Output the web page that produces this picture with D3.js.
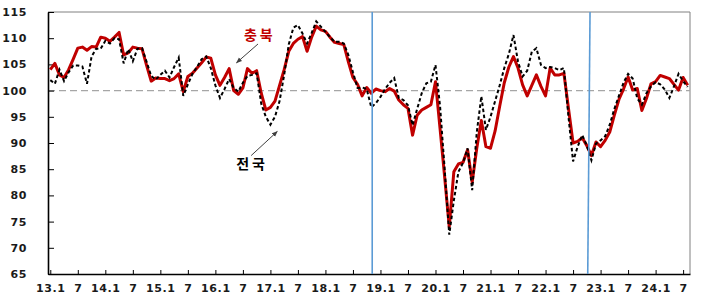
<!DOCTYPE html>
<html>
<head>
<meta charset="utf-8">
<script src="https://cdn.jsdelivr.net/npm/d3@7"></script>
<style>
  body { margin: 0; background: #fff; }
  svg text { font-family: "DejaVu Sans", Verdana, sans-serif; font-weight: bold; }
</style>
</head>
<body>
<div id="chart"></div>
<script>
// Monthly index, 2013.1 ~ 2024.8
const chungbuk = [
  104.0, 105.2, 103.0, 102.5, 104.0, 106.0, 108.1, 108.3, 107.7, 108.4, 108.3, 110.2,
  110.0, 109.4, 110.2, 111.1, 106.8, 107.2, 108.3, 108.1, 108.0, 104.8, 101.8, 102.4,
  102.3, 102.3, 101.9, 102.3, 103.2, 99.8, 102.7, 103.3, 104.3, 105.3, 106.4, 106.2,
  103.0, 101.0, 102.5, 104.2, 100.0, 99.3, 100.5, 104.2, 103.3, 103.8, 99.5, 96.3,
  96.8, 98.0, 101.0, 104.0, 107.5, 109.0, 109.8, 110.3, 107.5, 110.2, 112.3, 111.6,
  111.3, 110.2, 109.2, 109.0, 108.8, 105.5, 102.5, 101.2, 99.0, 100.6, 99.5, 100.3,
  100.0, 99.8, 100.4, 99.9, 98.2, 97.3, 96.6, 91.5, 95.3, 96.3, 96.8, 97.3,
  101.7, 92.7, 83.5, 74.0, 84.5, 86.0, 86.3, 88.7, 82.5, 89.0, 94.3, 89.3,
  89.0, 92.3, 97.0, 101.5, 104.5, 106.5, 104.3, 101.1, 99.0, 101.0, 103.0, 100.8,
  99.0, 104.3, 103.0, 103.0, 103.3, 96.6, 90.0, 90.3, 91.0, 89.5, 87.6, 90.2,
  89.3, 90.5, 92.1, 95.3, 98.3, 100.3, 102.6, 100.1, 100.4, 96.2, 98.5, 101.3,
  101.7, 102.9, 102.6, 102.3, 101.2, 100.1, 102.5, 101.0
];

const national = [
  102.0, 101.3, 104.0, 101.8, 103.5, 104.8, 104.8, 104.6, 101.3, 106.5, 108.0, 108.0,
  109.5, 109.0, 110.0, 109.8, 105.2, 107.9, 105.6, 108.0, 108.1, 105.5, 102.8, 102.1,
  103.0, 103.8, 102.5, 104.5, 106.3, 99.0, 101.2, 103.2, 104.5, 106.0, 106.5, 104.3,
  101.0, 98.6, 100.3, 102.2, 100.5, 99.8, 101.5, 102.8, 103.0, 103.3, 97.5, 95.0,
  93.5, 95.0, 98.0, 103.0, 108.8, 112.0, 112.5, 110.9, 109.0, 111.0, 113.2, 112.2,
  111.2, 110.2, 109.3, 109.3, 109.0, 106.8, 103.5, 100.5, 100.6, 100.3, 96.8, 97.6,
  98.8, 100.3, 101.5, 102.4, 98.6, 98.2, 97.2, 93.4, 96.5, 99.5, 101.4, 101.7,
  104.9, 97.0, 85.0, 72.5, 79.0, 84.5, 86.2, 89.0, 81.0, 92.0, 98.9, 92.5,
  95.0, 98.0, 101.0, 104.3, 107.0, 110.6, 105.5, 102.7, 103.8, 107.4, 108.1, 104.9,
  104.3, 104.5, 104.3, 103.9, 104.3, 95.0, 86.5, 89.3, 91.5, 89.5, 86.7, 89.9,
  90.5, 91.3, 93.5, 96.5, 99.0, 101.5, 103.2, 102.3, 98.5, 97.3, 99.5, 100.8,
  101.6, 101.2, 100.2, 98.6, 100.8, 103.2, 101.8, 100.7
];

const tickLabels = ['13.1', '7', '14.1', '7', '15.1', '7', '16.1', '7', '17.1', '7', '18.1', '7',
                    '19.1', '7', '20.1', '7', '21.1', '7', '22.1', '7', '23.1', '7', '24.1', '7'];
const yTicks = [65, 70, 75, 80, 85, 90, 95, 100, 105, 110, 115];

// vertical marker lines, in month-index units (top, bottom)
const dividers = [[70.2, 70.2], [117.7, 117.2]];

let width = 710, height = 297;
let margin = {top: 12, right: 20, bottom: 23, left: 48};

let svg = d3.select('#chart')
            .append('svg')
            .attr('width', width)
            .attr('height', height);

let xScale = d3.scaleLinear()
            .domain([-0.5, chungbuk.length - 0.5])
            .range([margin.left, width - margin.right]);

let yScale = d3.scaleLinear()
            .domain([65, 115])
            .range([height - margin.bottom, margin.top]);

// frame top / right
svg.append('path')
    .attr('d', `M${margin.left},${margin.top}H${width - margin.right}V${height - margin.bottom}`)
    .attr('fill', 'none')
    .attr('stroke', '#808080')
    .attr('stroke-width', 1);

// 100 reference line
svg.append('line')
    .attr('x1', margin.left)
    .attr('x2', width - margin.right)
    .attr('y1', yScale(100))
    .attr('y2', yScale(100))
    .attr('stroke', '#a6a6a6')
    .attr('stroke-width', 1.2)
    .attr('stroke-dasharray', '7,4');

// axes
let yAxis = svg.append('g')
            .attr('transform', `translate(${margin.left},0)`)
            .call(d3.axisLeft(yScale).tickValues(yTicks).tickSize(-6).tickSizeOuter(0).tickPadding(21));

let xTickValues = tickLabels.map((d, i) => i * 6);
let xAxis = svg.append('g')
            .attr('transform', `translate(0,${height - margin.bottom})`)
            .call(d3.axisBottom(xScale).tickValues(xTickValues).tickFormat((d, i) => tickLabels[i])
                    .tickSize(-4).tickSizeOuter(0).tickPadding(10));

svg.selectAll('.domain').attr('stroke', '#000').attr('stroke-width', 1.6);
svg.selectAll('.tick line').attr('stroke', '#000').attr('stroke-width', 1);
svg.selectAll('.tick text').attr('fill', '#1a1a1a').style('font-size', '11px');
xAxis.selectAll('.tick text').style('letter-spacing', '0.6px');
yAxis.selectAll('.tick text').style('letter-spacing', '0.6px');

// lines
let line = d3.line()
            .x((d, i) => xScale(i))
            .y(d => yScale(d));

svg.append('path')
    .datum(chungbuk)
    .attr('d', line)
    .attr('fill', 'none')
    .attr('stroke', '#c00000')
    .attr('stroke-width', 3)
    .attr('stroke-linejoin', 'round');

svg.append('path')
    .datum(national)
    .attr('d', line)
    .attr('fill', 'none')
    .attr('stroke', '#000')
    .attr('stroke-width', 2)
    .attr('stroke-dasharray', '3.5,2.5');

// blue dividers
svg.selectAll('.divider')
    .data(dividers)
    .enter()
    .append('line')
    .attr('x1', d => xScale(d[0]))
    .attr('x2', d => xScale(d[1]))
    .attr('y1', margin.top)
    .attr('y2', height - margin.bottom)
    .attr('stroke', '#5b9bd5')
    .attr('stroke-width', 1.6);

// annotations
svg.append('defs').append('marker')
    .attr('id', 'arrow')
    .attr('viewBox', '0 0 10 10')
    .attr('refX', 9).attr('refY', 5)
    .attr('markerWidth', 6).attr('markerHeight', 6)
    .attr('orient', 'auto')
    .append('path')
    .attr('d', 'M0,1L10,5L0,9Z')
    .attr('fill', '#404040');

const notes = [
  {text: '충북', color: '#c00000', tx: 45.7, ty: 110.6, from: [45.3, 108.9], to: [40.6, 105.3]},
  {text: '전국', color: '#000', tx: 44.0, ty: 86.0, from: [43.8, 87.6], to: [49.5, 92.2]}
];

notes.forEach(n => {
    svg.append('line')
        .attr('x1', xScale(n.from[0])).attr('y1', yScale(n.from[1]))
        .attr('x2', xScale(n.to[0])).attr('y2', yScale(n.to[1]))
        .attr('stroke', '#404040')
        .attr('stroke-width', 1)
        .attr('marker-end', 'url(#arrow)');

    svg.append('text')
        .attr('x', xScale(n.tx))
        .attr('y', yScale(n.ty))
        .attr('dy', '0.35em')
        .attr('text-anchor', 'middle')
        .attr('fill', n.color)
        .style('font-family', '"Noto Sans CJK KR", sans-serif')
        .style('font-size', '14px')
        .style('letter-spacing', '3px')
        .text(n.text);
});
</script>
</body>
</html>
